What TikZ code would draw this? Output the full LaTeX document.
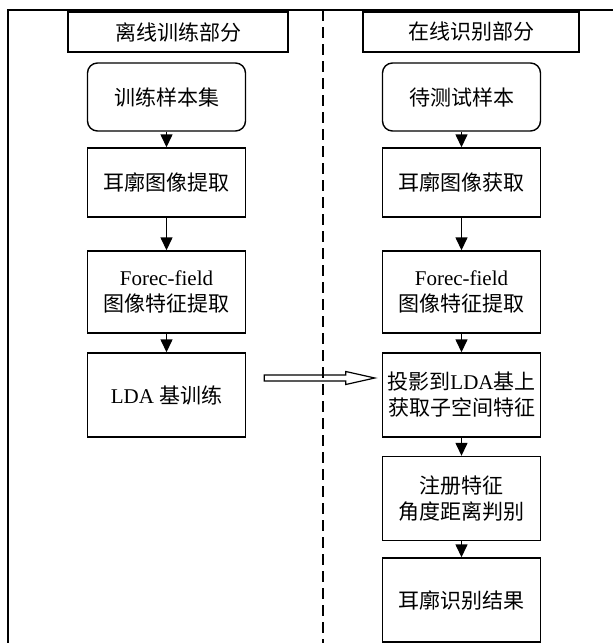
\documentclass[tikz,border=0pt]{standalone}
\usepackage{fontspec}
\setmainfont{Liberation Serif}
\newfontfamily\cjk{Noto Sans CJK SC}
\usetikzlibrary{arrows.meta,calc}

\begin{document}
\begin{tikzpicture}[x=1pt,y=-1pt,
	font=\fontsize{21}{26}\selectfont,
	box/.style={draw,line width=1.4pt,minimum width=158pt,align=center,inner sep=0pt},
	startbox/.style={box,rounded corners=10pt,minimum height=68pt},
	headbox/.style={box,minimum height=40pt},
	flow/.style={line width=1.4pt,-{Triangle[length=13pt,width=12pt]}}]
	\useasboundingbox (0,0) rectangle (613,643);
	% frame and divider
	\coordinate (framebl) at (8,643);
	\coordinate (frametl) at (8,10);
	\coordinate (frametr) at (613,10);
	\draw[line width=1.4pt] (framebl) -- (frametl) -- (frametr);
	\coordinate (divtop) at (323,10);
	\coordinate (divbot) at (323,643);
	\draw[line width=1.4pt,dash pattern=on 11pt off 6pt] (divtop) -- (divbot);
	% offline part
	\node[headbox,minimum width=220pt] (offhead) at (178,32) {\cjk 离线训练部分};
	\node[startbox] (trainset) at (166.5,97) {\cjk 训练样本集};
	\node[box,minimum height=69pt] (earcrop) at (166.5,182.5) {\cjk 耳廓图像提取};
	\node[box,minimum height=82pt] (ffeat) at (166.5,292) {Forec-field\\\cjk 图像特征提取};
	\node[box,minimum height=84pt] (ldatrain) at (166.5,395) {LDA {\cjk 基训练}};
	% online part
	\node[headbox,minimum width=216pt] (onhead) at (471,32) {\cjk 在线识别部分};
	\node[startbox] (testset) at (461.5,97) {\cjk 待测试样本};
	\node[box,minimum height=69pt] (earget) at (461.5,182.5) {\cjk 耳廓图像获取};
	\node[box,minimum height=82pt] (ffeattest) at (461.5,292) {Forec-field\\\cjk 图像特征提取};
	\node[box,minimum height=84pt] (project) at (461.5,395) {{\cjk 投影到}LDA{\cjk 基上}\\\cjk 获取子空间特征};
	\node[box,minimum height=84pt] (match) at (461.5,498.5) {\cjk 注册特征\\\cjk 角度距离判别};
	\node[box,minimum height=84pt] (result) at (461.5,600) {\cjk 耳廓识别结果};
	\draw[flow] (trainset) -- (earcrop);
	\draw[flow] (earcrop) -- (ffeat);
	\draw[flow] (ffeat) -- (ldatrain);
	\draw[flow] (testset) -- (earget);
	\draw[flow] (earget) -- (ffeattest);
	\draw[flow] (ffeattest) -- (project);
	\draw[flow] (project) -- (match);
	\draw[flow] (match) -- (result);
	% hollow arrow
	\coordinate (tail) at ($(ldatrain.east)+(18,-17)$);
	\coordinate (tip) at ($(project.west)+(-7,-17)$);
	\draw[line width=1.2pt,line join=miter] ($(tail)+(0,-3)$) -- ($(tip)+(-29,-3)$) -- ($(tip)+(-29,-6.5)$) -- (tip)
		-- ($(tip)+(-29,6.5)$) -- ($(tip)+(-29,3)$) -- ($(tail)+(0,3)$) -- cycle;
\end{tikzpicture}
\end{document}
